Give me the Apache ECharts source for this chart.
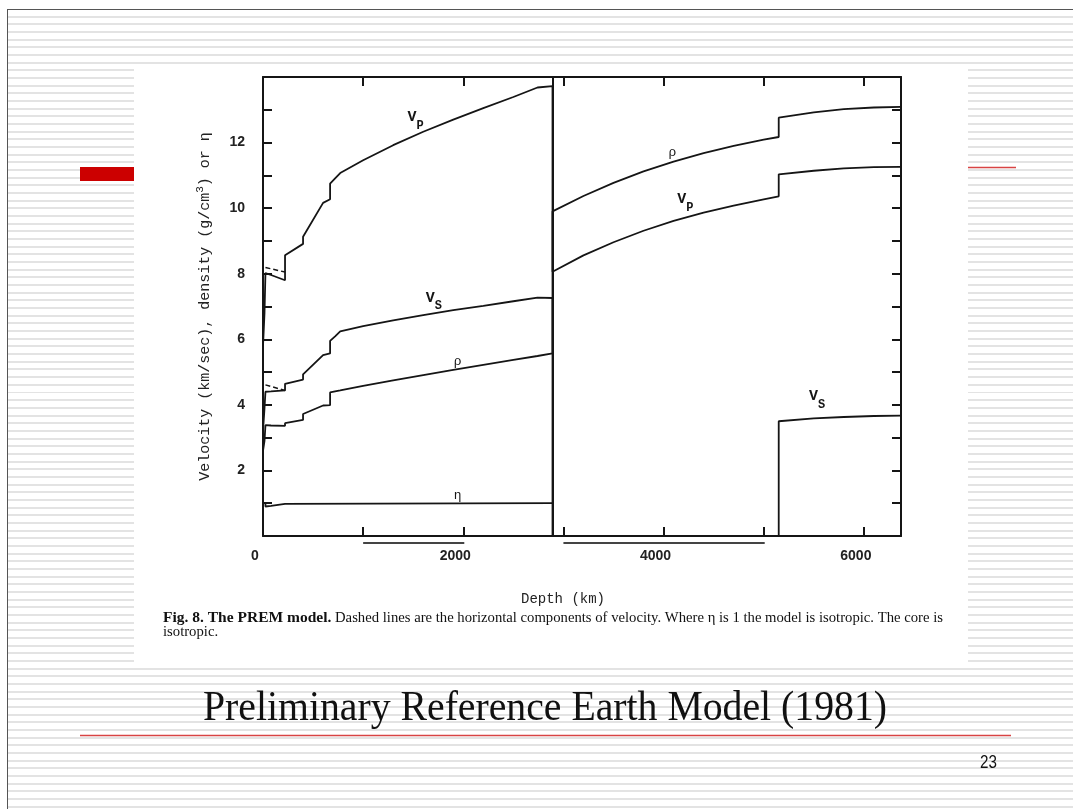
<!DOCTYPE html>
<html>
<head>
<meta charset="utf-8">
<script src="https://cdn.jsdelivr.net/npm/echarts@6/dist/echarts.min.js"></script>
<style>
  html, body { margin: 0; padding: 0; background: #fff; width: 1073px; height: 809px; overflow: hidden; }
  #slide { position: absolute; left: 7px; top: 9px; width: 1066px; height: 800px;
    border-left: 1px solid #555; border-top: 1px solid #555;
    background: repeating-linear-gradient(to bottom, #ffffff 0px, #ffffff 5.67px, #e3e3e3 5.67px, #e3e3e3 7.67px); }
  #chart { position: absolute; left: 0; top: 0; width: 1073px; height: 809px; }
</style>
</head>
<body>
<div id="slide"></div>
<div id="chart"></div>
<script>
// ---- PREM values (depth in km) ----
const vpDepth = [0, 15, 15, 24.4, 24.4, 80, 220, 220, 400, 400, 600, 670, 670, 720, 771, 1000, 1300, 1600, 1900, 2200, 2500, 2741, 2891, 2891, 3200, 3500, 3800, 4100, 4400, 4700, 5000, 5150, 5150, 5500, 5800, 6100, 6371];
const vpValues = [5.8, 5.8, 6.8, 6.8, 8.02, 7.96, 7.80, 8.56, 8.91, 9.13, 10.16, 10.27, 10.75, 10.91, 11.07, 11.46, 11.92, 12.33, 12.70, 13.05, 13.39, 13.68, 13.72, 8.06, 8.56, 8.96, 9.31, 9.61, 9.86, 10.08, 10.27, 10.36, 11.03, 11.14, 11.21, 11.25, 11.26];

const vsDepth = [0, 15, 15, 24.4, 24.4, 80, 220, 220, 400, 400, 600, 670, 670, 720, 771, 1000, 1300, 1600, 1900, 2200, 2500, 2741, 2891, 2891, 5150, 5150, 5500, 5800, 6100, 6371];
const vsValues = [3.2, 3.2, 3.9, 3.9, 4.40, 4.41, 4.44, 4.64, 4.77, 4.93, 5.52, 5.57, 5.95, 6.09, 6.24, 6.40, 6.58, 6.74, 6.89, 7.02, 7.16, 7.27, 7.26, 0, 0, 3.50, 3.59, 3.63, 3.66, 3.67];

const rhoDepth = [0, 15, 15, 24.4, 24.4, 80, 220, 220, 400, 400, 600, 670, 670, 720, 771, 1000, 1300, 1600, 1900, 2200, 2500, 2741, 2891, 2891, 3200, 3500, 3800, 4100, 4400, 4700, 5000, 5150, 5150, 5500, 5800, 6100, 6371];
const rhoValues = [2.6, 2.6, 2.9, 2.9, 3.38, 3.37, 3.36, 3.44, 3.54, 3.72, 3.98, 3.99, 4.38, 4.41, 4.44, 4.58, 4.75, 4.91, 5.07, 5.22, 5.37, 5.49, 5.57, 9.90, 10.37, 10.77, 11.12, 11.42, 11.68, 11.90, 12.09, 12.17, 12.76, 12.92, 13.02, 13.07, 13.09];

const etaDepth = [0, 24.4, 24.4, 80, 220, 220, 2891];
const etaValues = [1, 1, 0.90, 0.92, 0.98, 1, 1];

// horizontal components (dashed)
const vphDepth = [24.4, 80, 220];
const vphValues = [8.19, 8.15, 8.05];
const vshDepth = [24.4, 80, 220];
const vshValues = [4.61, 4.56, 4.44];

const xTicks = [0, 2000, 4000, 6000];
const yTicks = [2, 4, 6, 8, 10, 12];
const cmbDepth = 2891;
const underlineSpans = [[1000, 2000], [3000, 5000]];

const slideTitle = 'Preliminary Reference Earth Model (1981)';
const pageNumber = '23';
const captionBold = 'Fig. 8. The PREM model.';
const captionRest = ' Dashed lines are the horizontal components of velocity. Where \u03b7 is 1 the model is isotropic. The core is';
const captionLine2 = 'isotropic.';

function pairs(xs, ys) { return xs.map((x, i) => [x, ys[i]]); }

const INK = '#151515';
const mono = 'Liberation Mono';
const curveRich = {
  v: { fontFamily: mono, fontSize: 15, fontWeight: 'bold', color: INK, lineHeight: 22, verticalAlign: 'top' },
  s: { fontFamily: mono, fontSize: 12, fontWeight: 'bold', color: INK, lineHeight: 22, verticalAlign: 'bottom', padding: [8, 0, 0, 0] },
  g: { fontFamily: mono, fontSize: 13, color: INK }
};
function tag(coord, text) {
  return { coord: coord, symbol: 'circle', symbolSize: 1, itemStyle: { color: 'rgba(0,0,0,0)' },
           label: { show: true, position: 'inside', formatter: text, rich: curveRich, color: INK } };
}
const lineBase = { type: 'line', showSymbol: false, symbol: 'none', silent: true, animation: false };

const chart = echarts.init(document.getElementById('chart'), null, { renderer: 'canvas' });
const axisLineStyle = { color: INK, width: 2 };
const tickStyle = { show: true, inside: true, length: 9, lineStyle: { color: INK, width: 2 } };

const option = {
  backgroundColor: 'transparent',
  animation: false,
  grid: { left: 263, right: 172, top: 77, bottom: 273 },
  xAxis: [
    { type: 'value', min: 0, max: 6371, interval: 1000, position: 'bottom',
      axisLine: { show: true, onZero: false, lineStyle: axisLineStyle },
      axisTick: tickStyle, splitLine: { show: false },
      axisLabel: { margin: 13, fontFamily: 'Liberation Sans', fontWeight: 'bold', fontSize: 14, color: '#222',
                   padding: [0, 16, 0, 0],
                   formatter: v => xTicks.indexOf(v) >= 0 ? String(v) : '' },
      name: 'Depth (km)', nameLocation: 'middle', nameGap: 56,
      nameTextStyle: { fontFamily: mono, fontSize: 14, color: '#222', padding: [0, 38, 0, 0] } },
    { type: 'value', min: 0, max: 6371, interval: 1000, position: 'top',
      axisLine: { show: true, onZero: false, lineStyle: axisLineStyle },
      axisTick: tickStyle, splitLine: { show: false }, axisLabel: { show: false } }
  ],
  yAxis: [
    { type: 'value', min: 0, max: 14, interval: 1, position: 'left',
      axisLine: { show: true, onZero: false, lineStyle: axisLineStyle },
      axisTick: tickStyle, splitLine: { show: false },
      axisLabel: { margin: 18, fontFamily: 'Liberation Sans', fontWeight: 'bold', fontSize: 14, color: '#222',
                   formatter: v => yTicks.indexOf(v) >= 0 ? String(v) : '' },
      name: 'Velocity (km/sec), density (g/cm{sup|3}) or \u03b7', nameLocation: 'middle', nameGap: 48, nameRotate: 90,
      nameTextStyle: { fontFamily: mono, fontSize: 15, color: '#222',
                       rich: { sup: { fontFamily: mono, fontSize: 11, color: '#222', padding: [0, 0, 9, 0] } } } },
    { type: 'value', min: 0, max: 14, interval: 1, position: 'right',
      axisLine: { show: true, onZero: false, lineStyle: axisLineStyle },
      axisTick: tickStyle, splitLine: { show: false }, axisLabel: { show: false } }
  ],
  series: [
    Object.assign({}, lineBase, { name: 'Vp', data: pairs(vpDepth, vpValues), lineStyle: { color: INK, width: 1.8 },
      markPoint: { silent: true, data: [tag([1525, 12.66], '{v|V}{s|P}'), tag([4217, 10.16], '{v|V}{s|P}')] } }),
    Object.assign({}, lineBase, { name: 'Vs', data: pairs(vsDepth, vsValues), lineStyle: { color: INK, width: 1.8 },
      markPoint: { silent: true, data: [tag([1705, 7.16], '{v|V}{s|S}'), tag([5533, 4.15], '{v|V}{s|S}')] } }),
    Object.assign({}, lineBase, { name: 'rho', data: pairs(rhoDepth, rhoValues), lineStyle: { color: INK, width: 1.8 },
      markPoint: { silent: true, data: [tag([1944, 5.31], '{g|\u03c1}'), tag([4088, 11.69], '{g|\u03c1}')] },
      markLine: { silent: true, symbol: 'none', label: { show: false },
                  lineStyle: { color: INK, width: 2, type: 'solid' }, data: [{ xAxis: cmbDepth }] } }),
    Object.assign({}, lineBase, { name: 'eta', data: pairs(etaDepth, etaValues), lineStyle: { color: INK, width: 1.8 },
      markPoint: { silent: true, data: [tag([1944, 1.22], '{g|\u03b7}')] } }),
    Object.assign({}, lineBase, { name: 'Vph', data: pairs(vphDepth, vphValues), lineStyle: { color: INK, width: 1.5, type: [5, 3] } }),
    Object.assign({}, lineBase, { name: 'Vsh', data: pairs(vshDepth, vshValues), lineStyle: { color: INK, width: 1.5, type: [5, 3] } })
  ]
};

const slideGraphics = [
  { type: 'rect', z: -10, silent: true, shape: { x: 80, y: 167, width: 54, height: 14 }, style: { fill: '#cc0000' } },
  { type: 'rect', z: -9, silent: true, shape: { x: 134, y: 64, width: 834, height: 601 }, style: { fill: '#ffffff' } },
  { type: 'line', z: -9, silent: true, shape: { x1: 968, y1: 167.5, x2: 1016, y2: 167.5 }, style: { stroke: '#d84444', lineWidth: 1.5 } },
  { type: 'line', z: -9, silent: true, shape: { x1: 80, y1: 735.5, x2: 1011, y2: 735.5 }, style: { stroke: '#d84444', lineWidth: 1.5 } },
  { type: 'text', silent: true, x: 545, y: 709, scaleX: 0.946,
    style: { text: slideTitle, fontFamily: 'Liberation Serif', fontSize: 42, fill: '#111', textAlign: 'center', textVerticalAlign: 'middle' } },
  { type: 'text', silent: true, x: 988.5, y: 763, scaleX: 0.8,
    style: { text: pageNumber, fontFamily: 'Liberation Sans', fontSize: 19, fill: '#111', textAlign: 'center', textVerticalAlign: 'middle' } },
  { type: 'text', silent: true, x: 163, y: 610,
    style: { text: '{b|' + captionBold + '}{n|' + captionRest + '}',
             textAlign: 'left', textVerticalAlign: 'top',
             rich: { b: { fontFamily: 'Liberation Serif', fontSize: 15.5, fontWeight: 'bold', fill: '#111' },
                     n: { fontFamily: 'Liberation Serif', fontSize: 14.7, fill: '#111' } } } },
  { type: 'text', silent: true, x: 163, y: 625,
    style: { text: captionLine2, fontFamily: 'Liberation Serif', fontSize: 14.7, fill: '#111', textAlign: 'left', textVerticalAlign: 'top' } }
];
option.graphic = slideGraphics;
chart.setOption(option);

// underlines beneath the depth tick labels (positioned from the axis scale)
const y0 = chart.convertToPixel({ yAxisIndex: 0 }, 0);
const under = underlineSpans.map(s => {
  const a = chart.convertToPixel({ xAxisIndex: 0 }, s[0]);
  const b = chart.convertToPixel({ xAxisIndex: 0 }, s[1]);
  return { type: 'line', silent: true, shape: { x1: a, y1: y0 + 7, x2: b + 1, y2: y0 + 7 }, style: { stroke: '#444', lineWidth: 2 } };
});
chart.setOption({ graphic: slideGraphics.concat(under) });
</script>
</body>
</html>
